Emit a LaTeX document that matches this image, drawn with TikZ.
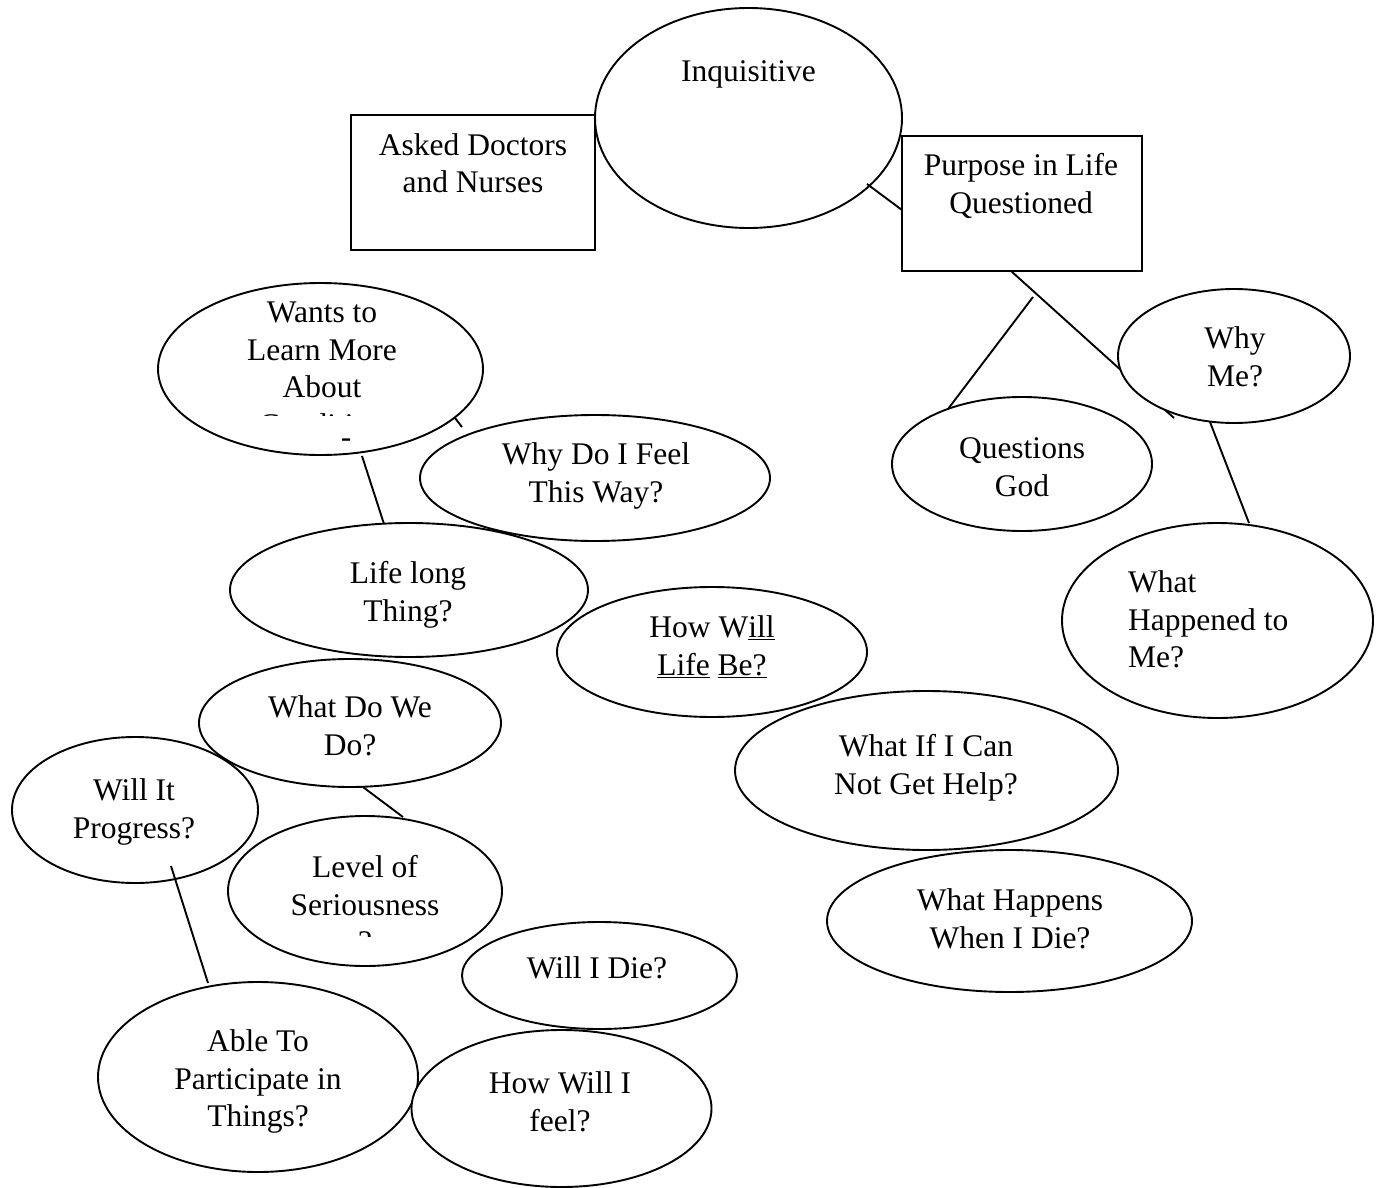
\documentclass[tikz,border=0pt]{standalone}
\usepackage{fontspec}
\setmainfont{Liberation Serif}
\usetikzlibrary{shapes.geometric}
\begin{document}
\begin{tikzpicture}[x=1pt,y=-1pt,
  bubble/.style={ellipse,draw,fill=white,line width=1.9pt,inner sep=0pt},
  card/.style={rectangle,draw,fill=white,line width=1.9pt,inner sep=0pt},
  lbl/.style={font=\fontsize{31.5}{37.5}\selectfont,align=center,anchor=base,inner sep=0pt},
  link/.style={line width=1.9pt}]
\useasboundingbox (0,0) rectangle (1382,1188);

% central topic and the two boxes beside it
% (label positions give the baseline of the last line)
\node[bubble,minimum width=307pt,minimum height=220pt] (inq) at (748.5,118) {};
\node[lbl] (inq-t) at (748.5,82) {Inquisitive};
\node[card,minimum width=244pt,minimum height=135pt] (ask) at (473,182.5) {};
\node[lbl] (ask-t) at (473,193) {Asked Doctors\\and Nurses};
\node[card,minimum width=240pt,minimum height=135pt] (purp) at (1022,203.5) {};
\node[lbl] (purp-t) at (1021,213) {Purpose in Life\\Questioned};

% left-hand cluster
\node[bubble,minimum width=325pt,minimum height=172pt] (wants) at (320.5,369) {};
\node[lbl] (wants-t) at (322,397.5) {Wants to\\Learn More\\About};
\begin{scope}
  \clip (150,280) rectangle (490,415);
  \node[lbl,text depth=0pt] (wants-t2) at (322,435) {Condition};
\end{scope}
\node[lbl] (dash) at (346,447) {-};
\node[bubble,minimum width=350pt,minimum height=126pt] (feel) at (595,478) {};
\node[lbl] (feel-t) at (596,502) {Why Do I Feel\\This Way?};
\node[bubble,minimum width=358pt,minimum height=134pt] (life) at (409,590) {};
\node[lbl] (life-t) at (408,621) {Life long\\Thing?};
\node[bubble,minimum width=310pt,minimum height=130pt] (howlife) at (712,652) {};
\node[lbl] (howlife-t) at (712,675) {How W\underline{ill}\\\underline{Life} \underline{Be?}};
\node[bubble,minimum width=302pt,minimum height=128pt] (whatdo) at (350,723) {};
\node[lbl] (whatdo-t) at (350,755) {What Do We\\Do?};
\node[bubble,minimum width=246pt,minimum height=146pt] (prog) at (135,810) {};
\node[lbl] (prog-t) at (134,838) {Will It\\Progress?};
\node[bubble,minimum width=274pt,minimum height=150pt] (level) at (365,891) {};
\begin{scope}
  \clip (230,820) rectangle (500,936);
  \node[lbl] (level-t) at (365,952.5) {Level of\\Seriousness\\?};
\end{scope}
\node[bubble,minimum width=275pt,minimum height=107pt] (die) at (599.5,975.5) {};
\node[lbl] (die-t) at (597,978.5) {Will I Die?};
\node[bubble,minimum width=320pt,minimum height=190pt] (able) at (258,1077) {};
\node[lbl] (able-t) at (258,1126.5) {Able To\\Participate in\\Things?};
\node[bubble,minimum width=300pt,minimum height=157pt] (howfeel) at (561.5,1108.5) {};
\node[lbl] (howfeel-t) at (560,1131) {How Will I\\feel?};

% right-hand cluster
\node[bubble,minimum width=383pt,minimum height=159pt] (help) at (926.5,770.5) {};
\node[lbl] (help-t) at (926,794) {What If I Can\\Not Get Help?};
\node[bubble,minimum width=365pt,minimum height=142pt] (happens) at (1009.5,921) {};
\node[lbl] (happens-t) at (1010,948) {What Happens\\When I Die?};
\node[bubble,minimum width=260pt,minimum height=134pt] (god) at (1022,464) {};
\node[lbl] (god-t) at (1022,496) {Questions\\God};
\node[bubble,minimum width=311pt,minimum height=195pt] (happened) at (1217.5,620.5) {};
\node[lbl,align=left,anchor=base west] (happened-t) at (1128,667.5) {What\\Happened to\\Me?};

% connector ends
\coordinate (inq-e) at (867,184);
\coordinate (purp-w) at (902,210);
\coordinate (purp-s1) at (1033,297);
\coordinate (god-n) at (948,409);
\coordinate (purp-s2) at (1011,271);
\coordinate (whyme-s) at (1174,418);
\coordinate (whyme-b) at (1210,422);
\coordinate (happened-n) at (1249,523);
\coordinate (wants-se) at (455,418);
\coordinate (feel-nw) at (462,427);
\coordinate (wants-s) at (362,456);
\coordinate (life-n) at (384,524);
\coordinate (whatdo-s) at (363,787);
\coordinate (level-n) at (403,817);
\coordinate (prog-s) at (171,866);
\coordinate (able-n) at (208,983);

% this one runs behind the "Why Me?" bubble
\draw[link] (purp-s2) -- (whyme-s);
\node[bubble,minimum width=232pt,minimum height=134pt] (whyme) at (1234,356) {};
\node[lbl] (whyme-t) at (1235,386) {Why\\Me?};

\draw[link] (inq-e) -- (purp-w);
\draw[link] (purp-s1) -- (god-n);
\draw[link] (whyme-b) -- (happened-n);
\draw[link] (wants-se) -- (feel-nw);
\draw[link] (wants-s) -- (life-n);
\draw[link] (whatdo-s) -- (level-n);
\draw[link] (prog-s) -- (able-n);
\end{tikzpicture}
\end{document}
